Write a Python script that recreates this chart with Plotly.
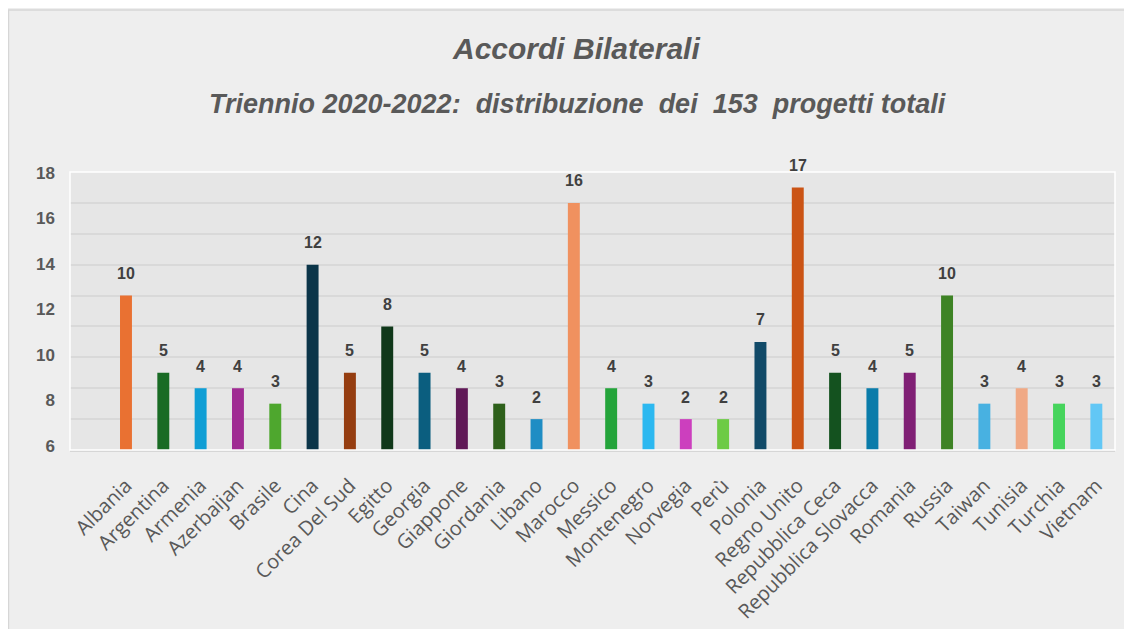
import plotly.graph_objects as go

countries = ["Albania", "Argentina", "Armenia", "Azerbaijan", "Brasile", "Cina",
             "Corea Del Sud", "Egitto", "Georgia", "Giappone", "Giordania", "Libano",
             "Marocco", "Messico", "Montenegro", "Norvegia", "Perù", "Polonia",
             "Regno Unito", "Repubblica Ceca", "Repubblica Slovacca", "Romania",
             "Russia", "Taiwan", "Tunisia", "Turchia", "Vietnam"]
projects = [10, 5, 4, 4, 3, 12, 5, 8, 5, 4, 3, 2, 16, 4, 3, 2, 2, 7, 17, 5, 4, 5, 10, 3, 4, 3, 3]
axis_ticks = [6, 8, 10, 12, 14, 16, 18]

title_1 = "Accordi Bilaterali"
title_2 = "Triennio 2020-2022:&nbsp; distribuzione&nbsp; dei&nbsp; 153&nbsp; progetti totali"

bar_colors = ["#E97132", "#196B24", "#0F9ED5", "#A02B93", "#4EA72E", "#0B3549",
              "#953D10", "#10381A", "#0B5E7F", "#601957", "#2E601B", "#1F8DC4",
              "#F0915F", "#24A43A", "#2CB8F0", "#CC3FBE", "#6DCB45", "#114A68",
              "#CB5415", "#14521F", "#0A7CAA", "#801F75", "#3E8325", "#48B1E1",
              "#F0A985", "#46D45C", "#62C7F5"]

fig = go.Figure()
fig.add_trace(go.Bar(x=countries, y=projects, marker=dict(color=bar_colors, line=dict(width=0)),
                     width=0.32, showlegend=False, hoverinfo="x+y"))
# empty trace to register the label axis
fig.add_trace(go.Scatter(x=[], y=[], yaxis="y2", showlegend=False))

annotations = []
for c, v in zip(countries, projects):
    annotations.append(dict(x=c, y=v, xref="x", yref="y", text=f"<b>{v}</b>", showarrow=False,
                            yanchor="middle", yshift=22,
                            font=dict(family="Liberation Sans, Arial, sans-serif", size=16, color="#404040")))

annotations.append(dict(x=0.4842, y=1.445, xref="paper", yref="paper", text=f"<b><i>{title_1}</i></b>",
                        showarrow=False, xanchor="center", yanchor="middle",
                        font=dict(family="Liberation Sans, Arial, sans-serif", size=30, color="#595959")))
annotations.append(dict(x=0.4852, y=1.245, xref="paper", yref="paper", text=f"<b><i>{title_2}</i></b>",
                        showarrow=False, xanchor="center", yanchor="middle",
                        font=dict(family="Liberation Sans, Arial, sans-serif", size=27, color="#595959")))

shapes = [
    # chart frame
    dict(type="rect", xref="paper", yref="paper", x0=-0.0589, x1=1.2, y0=-1.0, y1=1.583,
         fillcolor="#EEEEEE", line=dict(color="#D6D6D6", width=1.5), layer="below"),
    # plot area background
    dict(type="rect", xref="x domain", yref="y domain", x0=0, x1=1, y0=0, y1=1,
         fillcolor="#E6E6E6", line=dict(width=0), layer="below"),
    # plot area border
    dict(type="rect", xref="x domain", yref="y domain", x0=0, x1=1, y0=0, y1=1,
         fillcolor="rgba(0,0,0,0)", line=dict(color="#FFFFFF", width=1.5), layer="above"),
]

fig.update_layout(
    width=1124, height=621,
    margin=dict(l=62, r=17, t=164, b=179, autoexpand=False),
    paper_bgcolor="#EEEEEE",
    plot_bgcolor="rgba(0,0,0,0)",
    bargap=0.68,
    annotations=annotations,
    shapes=shapes,
    xaxis=dict(range=[-1.5, 26.5], tickangle=-45, showgrid=False, zeroline=False,
               showline=True, linecolor="#D6D6D6", linewidth=2, ticks="",
               ticklabelstandoff=14, automargin=False,
               tickfont=dict(family="Open Sans, sans-serif", size=20, color="#595959")),
    yaxis=dict(range=[0, 18], dtick=2, showgrid=True, gridcolor="#D9D9D9", gridwidth=1.5,
               showticklabels=False, zeroline=False, ticks="", automargin=False),
    yaxis2=dict(range=[5.824, 18.044], tickvals=axis_ticks, overlaying="y", side="left",
                showgrid=False, zeroline=False, showline=False, ticks="",
                ticklabelstandoff=14, automargin=False,
                tickfont=dict(family="Liberation Sans, Arial, sans-serif", size=17,
                              color="#595959", weight="bold")),
)

fig.write_html("out.html")
